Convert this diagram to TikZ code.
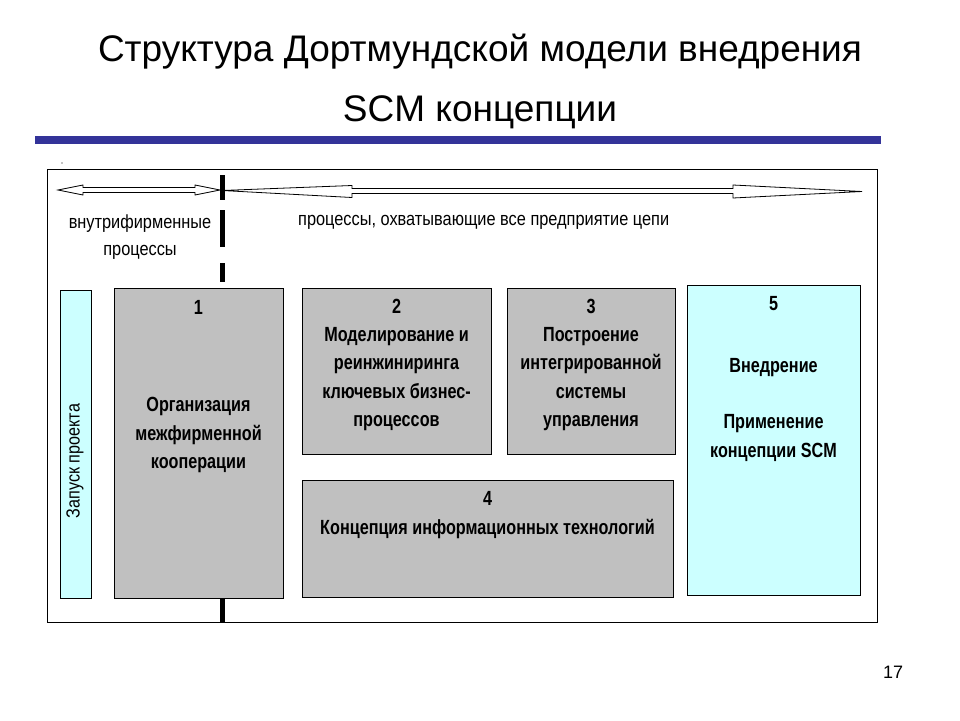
\documentclass[tikz,border=0pt]{standalone}
\usepackage{fontspec}
\setmainfont{Liberation Sans}
\newfontfamily\nfont[FakeStretch=0.86]{Liberation Sans}
\newfontfamily\bfont[FakeStretch=0.79]{Liberation Sans}
\newfontfamily\rfont[FakeStretch=0.85]{Liberation Sans}
\definecolor{boxgray}{HTML}{C0C0C0}
\definecolor{boxcyan}{HTML}{CCFFFF}
\definecolor{barblue}{HTML}{333399}
\tikzset{
  gbox/.style={draw=black, line width=0.9pt, fill=boxgray, inner sep=0pt},
  cbox/.style={draw=black, line width=0.9pt, fill=boxcyan, inner sep=0pt},
  btext/.style={align=center, inner sep=0pt, font=\bfont\bfseries\fontsize{20.5}{28.5}\selectfont},
  ltext/.style={align=center, inner sep=0pt, font=\nfont\fontsize{19}{27}\selectfont},
  hollow/.style={draw=black, line width=0.8pt, fill=white, line join=miter},
  sep/.style={line width=5pt, black}
}
\begin{document}
\begin{tikzpicture}[x=1pt,y=-1pt]
\useasboundingbox (0,0) rectangle (960,720);
\fill[white] (0,0) rectangle (960,720);
% title
\node[font=\fontsize{37}{42}\selectfont, inner sep=0pt] (t1) at (480,52) {Структура Дортмундской модели внедрения};
\node[font=\fontsize{37}{42}\selectfont, inner sep=0pt] (t2) at (480,112) {SCM концепции};
\fill[barblue] (35,136) rectangle (881,144);
\fill[black] (62,163) circle (0.7);
% frame
\node[draw=black, line width=0.9pt, minimum width=830, minimum height=453, inner sep=0pt] (frame) at (462,395.5) {};
% left double arrow
\draw[hollow] (58,190) -- (83,185) -- (83,187.5) -- (195,187.5) -- (195,185) -- (220,190)
  -- (195,195) -- (195,192.5) -- (83,192.5) -- (83,195) -- cycle;
% right tapered arrow
\draw[hollow] (222,190.5) -- (352,185.5) -- (352,188.5) -- (733,188.5) -- (733,185)
  -- (862,191.5) -- (733,198) -- (733,193.5) -- (352,193.5) -- (352,197.5) -- cycle;
% dashed separator
\draw[sep] (222,175) -- (222,200);
\draw[sep] (222,210) -- (222,247);
\draw[sep] (222,263) -- (222,282);
\draw[sep] (222,598) -- (222,622);
% upper labels
\node[ltext] (lin) at (140,237) {внутрифирменные\\процессы};
\node[ltext, anchor=west] (lall) at (298,222) {процессы, охватывающие все предприятие цепи};
% project start
\node[cbox, minimum width=31, minimum height=308] (b0) at (75.5,444) {};
\node[rotate=90, inner sep=0pt, font=\rfont\fontsize{19}{22}\selectfont] (b0t) at (75,461) {Запуск проекта};
% box 1
\node[gbox, minimum width=169, minimum height=310] (b1) at (198.5,443) {};
\node[btext] (b1n) at (198.5,307) {1};
\node[btext] (b1t) at (198.5,435) {Организация\\межфирменной\\кооперации};
% box 2
\node[gbox, minimum width=189, minimum height=166] (b2) at (396.5,371) {};
\node[btext] (b2n) at (396.5,306) {2};
\node[btext] (b2t) at (396.5,379) {Моделирование и\\реинжиниринга\\ключевых бизнес-\\процессов};
% box 3
\node[gbox, minimum width=168, minimum height=166] (b3) at (591,371) {};
\node[btext] (b3n) at (591,306) {3};
\node[btext] (b3t) at (591,379) {Построение\\интегрированной\\системы\\управления};
% box 4
\node[gbox, minimum width=371, minimum height=117] (b4) at (487.5,538.5) {};
\node[btext] (b4n) at (487.5,498) {4};
\node[btext] (b4t) at (487.5,529) {Концепция информационных технологий};
% box 5
\node[cbox, minimum width=173, minimum height=310] (b5) at (773.5,440) {};
\node[btext] (b5n) at (773.5,304) {5};
\node[btext] (b5a) at (773.5,368) {Внедрение};
\node[btext] (b5b) at (773.5,438) {Применение\\концепции SCM};
% page number
\node[font=\fontsize{18}{20}\selectfont, inner sep=0pt] (pg) at (893,672) {17};
\end{tikzpicture}
\end{document}
